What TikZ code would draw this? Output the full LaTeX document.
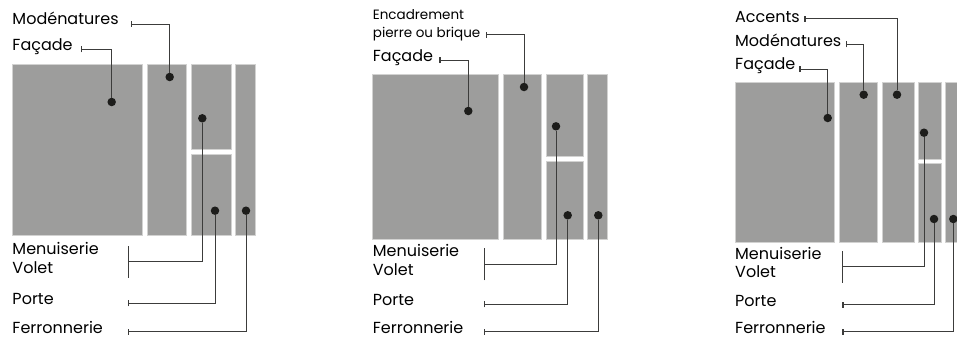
\documentclass[tikz,border=0pt]{standalone}
\usepackage{fontspec}
\setmainfont{Poppins}
\usepackage{tikz}
\usetikzlibrary{arrows.meta,positioning}
\definecolor{mur}{HTML}{9D9D9C}
\definecolor{liseré}{HTML}{D2D2D1}
\definecolor{trait}{HTML}{3C3C3B}
\definecolor{pastille}{HTML}{1D1D1B}
\tikzset{
    %Define style for wall blocks
    bloc/.style={
           fill=mur,
           draw=liseré, line width=.6pt},
    %Define style for the dots
    point/.style={
           circle,
           fill=pastille,
           inner sep=0pt,
           minimum size=8.5pt},
    %Define style for labels
    etiquette/.style={
           anchor=base west,
           inner sep=0pt,
           font=\fontsize{16}{19}\selectfont},
    petite/.style={
           anchor=base west,
           inner sep=0pt,
           font=\fontsize{13.5}{16}\selectfont},
    % Define leader style
    renvoi/.style={
           {Bar[width=6pt,line width=1.4pt]}-,
           draw=trait,
           line width=.9pt},
    accolade/.style={
           {Bar[width=32pt,line width=.9pt]}-,
           draw=trait,
           line width=.9pt}
}

\begin{document}
\begin{tikzpicture}[x=1pt,y=-1pt]
\useasboundingbox (0,0) rectangle (957,337);

 %panel 1
\draw[bloc] (12.3,64.3) rectangle (142.7,235.3);
\draw[bloc] (147.7,64.3) rectangle (186.7,235.3);
\draw[bloc] (191.7,64.3) rectangle (231,149.7);
\draw[bloc] (191.7,154) rectangle (231,235.3);
\draw[bloc] (235,64.3) rectangle (255.7,235.3);

\node[etiquette] (a-mod) at (12.3,25) {Modénatures};
\node[etiquette] (a-fac) at (12.3,51) {Façade};
\node[etiquette] (a-men) at (12.3,254) {Menuiserie};
\node[etiquette] (a-vol) at (12.3,273.3) {Volet};
\node[etiquette] (a-por) at (12.3,304) {Porte};
\node[etiquette] (a-fer) at (12.3,333) {Ferronnerie};

\node[point] (pa-mod) at (169.7,77) {};
\node[point] (pa-fac) at (111.7,102) {};
\node[point] (pa-vol) at (202.3,118.3) {};
\node[point] (pa-por) at (215,210.7) {};
\node[point] (pa-fer) at (246,210.7) {};

\coordinate (ta-mod) at (131,24);
\coordinate (ta-fac) at (81,49.3);
\coordinate (ta-vol) at (127.7,261.7);
\coordinate (ta-por) at (127.7,303.3);
\coordinate (ta-fer) at (127.7,331.7);

\draw[renvoi] (ta-mod) -| (pa-mod);
\draw[renvoi] (ta-fac) -| (pa-fac);
\draw[accolade] (ta-vol) -| (pa-vol);
\draw[renvoi] (ta-por) -| (pa-por);
\draw[renvoi] (ta-fer) -| (pa-fer);

 %panel 2
\draw[bloc] (372.7,74.7) rectangle (498.3,239.7);
\draw[bloc] (503,74.7) rectangle (541,239.7);
\draw[bloc] (546,74.7) rectangle (583.7,156.3);
\draw[bloc] (546,161) rectangle (583.7,239.7);
\draw[bloc] (587.7,74.7) rectangle (607.3,239.7);

\node[petite] (b-enc) at (372.7,19.5) {Encadrement};
\node[petite] (b-pie) at (372.7,37.7) {pierre ou brique};
\node[etiquette] (b-fac) at (372.7,61) {Façade};
\node[etiquette] (b-men) at (372.7,256) {Menuiserie};
\node[etiquette] (b-vol) at (372.7,275.3) {Volet};
\node[etiquette] (b-por) at (372.7,305) {Porte};
\node[etiquette] (b-fer) at (372.7,333) {Ferronnerie};

\node[point] (pb-enc) at (524,87) {};
\node[point] (pb-fac) at (468.3,111) {};
\node[point] (pb-vol) at (556,126.3) {};
\node[point] (pb-por) at (567.7,215.3) {};
\node[point] (pb-fer) at (598.3,215.3) {};

\coordinate (tb-enc) at (485.7,34.7);
\coordinate (tb-fac) at (439.3,60);
\coordinate (tb-vol) at (483.7,264.3);
\coordinate (tb-por) at (483.7,304.3);
\coordinate (tb-fer) at (483.7,331.7);

\draw[renvoi] (tb-enc) -| (pb-enc);
\draw[renvoi] (tb-fac) -| (pb-fac);
\draw[accolade] (tb-vol) -| (pb-vol);
\draw[renvoi] (tb-por) -| (pb-por);
\draw[renvoi] (tb-fer) -| (pb-fer);

 %panel 3
\draw[bloc] (735,82.7) rectangle (834.7,242.3);
\draw[bloc] (839,82.7) rectangle (877.7,242.3);
\draw[bloc] (882.3,82.7) rectangle (914.7,242.3);
\draw[bloc] (918.7,82.7) rectangle (941,159);
\draw[bloc] (918.7,163.3) rectangle (941,242.3);
\draw[bloc] (945,82.7) rectangle (966,242.3);

\node[etiquette] (c-acc) at (735,22.7) {Accents};
\node[etiquette] (c-mod) at (735,46.7) {Modénatures};
\node[etiquette] (c-fac) at (735,69.7) {Façade};
\node[etiquette] (c-men) at (735,259.3) {Menuiserie};
\node[etiquette] (c-vol) at (735,277.7) {Volet};
\node[etiquette] (c-por) at (735,306) {Porte};
\node[etiquette] (c-fer) at (735,333) {Ferronnerie};

\node[point] (pc-acc) at (897,94.7) {};
\node[point] (pc-mod) at (863.7,94.7) {};
\node[point] (pc-fac) at (827.7,118) {};
\node[point] (pc-vol) at (924,132.7) {};
\node[point] (pc-por) at (934,219) {};
\node[point] (pc-fer) at (953.3,219) {};

\coordinate (tc-acc) at (804.3,18.7);
\coordinate (tc-mod) at (845.7,44.3);
\coordinate (tc-fac) at (799.3,69);
\coordinate (tc-vol) at (842.3,266.7);
\coordinate (tc-por) at (842.3,304.7);
\coordinate (tc-fer) at (842.3,331.7);

\draw[renvoi] (tc-acc) -| (pc-acc);
\draw[renvoi] (tc-mod) -| (pc-mod);
\draw[renvoi] (tc-fac) -| (pc-fac);
\draw[accolade] (tc-vol) -| (pc-vol);
\draw[renvoi] (tc-por) -| (pc-por);
\draw[renvoi] (tc-fer) -| (pc-fer);

\end{tikzpicture}
\end{document}
